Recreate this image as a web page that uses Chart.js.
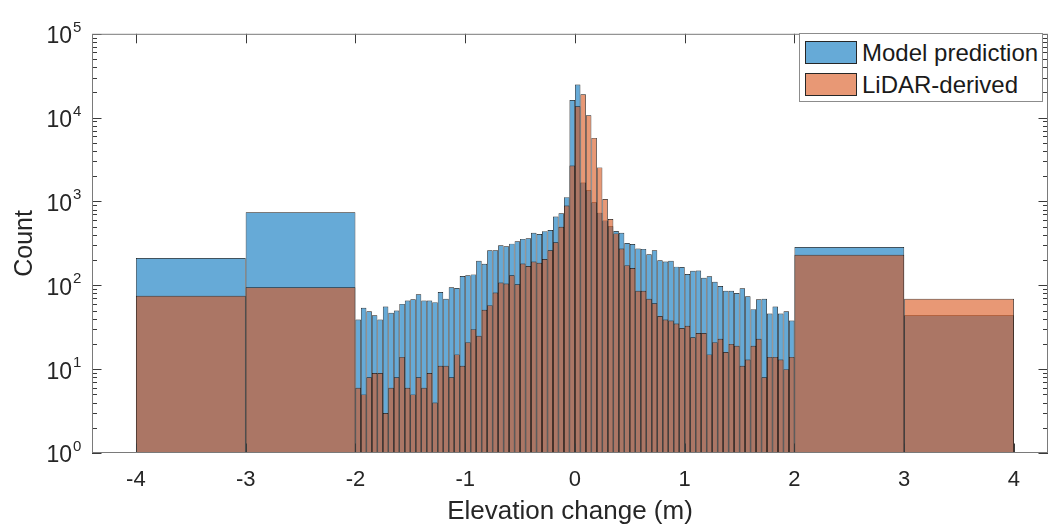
<!DOCTYPE html>
<html>
<head>
<meta charset="utf-8">
<title>Elevation change histogram</title>
<script src="https://cdn.jsdelivr.net/npm/chart.js@4.4.1/dist/chart.umd.min.js"></script>
<style>
  html, body { margin: 0; padding: 0; background: #fff; }
  #wrap { position: relative; width: 1049px; height: 527px; overflow: hidden; }
  #legend {
    position: absolute; left: 799px; top: 33px; width: 244px; height: 69px;
    box-sizing: border-box; border: 1px solid #8c8c8c; background: #fff;
    font-family: 'Liberation Sans', Arial, sans-serif; font-size: 24px; color: #1a1a1a;
  }
  .item { position: absolute; left: 5px; height: 23px; display: flex; align-items: center; white-space: nowrap; }
  .swatch { width: 52px; height: 23px; box-sizing: border-box; border: 1px solid #262626; margin-right: 5px; }
</style>
</head>
<body>
<div id="wrap">
  <canvas id="histChart" width="1049" height="527"></canvas>
  <div id="legend"></div>
</div>
<script>
const FONT = "'Liberation Sans', Arial, sans-serif";

// bins: four 1 m wide bins outside +-2 m, 0.05 m bins inside
const wideBinCenters = [-3.5, -2.5, 2.5, 3.5];
const wideBinWidth = 1;
const fineBinStart = -2;
const fineBinWidth = 0.05;
const fineBinCount = 80;
const fineBinCenters = Array.from({ length: fineBinCount }, (_, i) => +(fineBinStart + fineBinWidth * (i + 0.5)).toFixed(3));

// counts
const modelWide = [212, 742, 287, 44];
const lidarWide = [75, 95, 232, 69];

const modelFine = [
  39, 54, 49, 44, 39, 56, 47, 50, 60, 66,
  68, 78, 66, 66, 63, 83, 69, 95, 93, 129,
  132, 135, 196, 181, 262, 262, 300, 292, 314, 336,
  358, 365, 424, 409, 443, 456, 661, 722, 1127, 16200,
  24800, 1680, 1360, 977, 736, 595, 507, 444, 424, 319,
  310, 274, 272, 234, 262, 199, 192, 196, 167, 165,
  136, 149, 150, 123, 128, 110, 98, 86, 86, 81,
  92, 74, 52, 68, 69, 46, 56, 46, 49, 38
];
const lidarFine = [
  6, 5, 8, 9, 9, 3, 6, 8, 14, 6,
  5, 8, 6, 9, 4, 11, 11, 8, 15, 11,
  21, 30, 25, 51, 58, 82, 108, 105, 132, 103,
  182, 170, 192, 186, 206, 262, 327, 498, 894, 2690,
  13700, 19000, 10660, 5730, 2550, 1069, 616, 416, 274, 174,
  161, 86, 86, 69, 61, 43, 39, 38, 35, 31,
  33, 24, 27, 27, 15, 21, 23, 16, 20, 19,
  11, 13, 19, 23, 8, 14, 14, 13, 10, 14
];

const seriesLabels = ['Model prediction', 'LiDAR-derived'];
const seriesColors = ['rgba(0,114,189,0.6)', 'rgba(217,83,25,0.6)'];
const edgeColor = '#141414';

const yMin = 1, yMax = 1e5;
const majorTick = 9.5, minorTick = 5;

// one bar dataset; all share one stack so they overlap instead of sitting side by side
function histDataset(series, centers, counts, binWidth) {
  const ds = {
    label: seriesLabels[series],
    data: centers.map((x, i) => ({ x: x, y: counts[i] })),
    backgroundColor: seriesColors[series],
    borderColor: edgeColor,
    borderWidth: 0.7,
    borderSkipped: false,
    inflateAmount: 0,
    stack: 'hist',
    order: series === 0 ? 2 : 1,
    categoryPercentage: 1,
    barPercentage: 1
  };
  if (binWidth) {
    ds.barThickness = (ctx) => {
      const s = ctx.chart.scales.x;
      return Math.abs(s.getPixelForValue(binWidth) - s.getPixelForValue(0));
    };
  }
  return ds;
}

const isDecade = (v) => Math.abs(Math.log10(v) - Math.round(Math.log10(v))) < 1e-9;

// inward ticks, box and the exponents of the y labels
const axisFrame = {
  id: 'axisFrame',
  afterDatasetsDraw(chart) {
    const { ctx, chartArea: a, scales: { x, y } } = chart;
    ctx.save();
    ctx.strokeStyle = '#3a3a3a';
    ctx.lineWidth = 1;
    ctx.beginPath();
    x.ticks.forEach(t => {
      const px = Math.round(x.getPixelForValue(t.value)) + 0.5;
      ctx.moveTo(px, a.bottom); ctx.lineTo(px, a.bottom - majorTick);
      ctx.moveTo(px, a.top); ctx.lineTo(px, a.top + majorTick);
    });
    for (let e = Math.round(Math.log10(yMin)); e < Math.round(Math.log10(yMax)) + 1; e++) {
      for (let m = 1; m <= 9; m++) {
        const v = m * Math.pow(10, e);
        if (v > yMax) break;
        const len = m === 1 ? majorTick : minorTick;
        const py = Math.round(y.getPixelForValue(v)) + 0.5;
        ctx.moveTo(a.left, py); ctx.lineTo(a.left + len, py);
        ctx.moveTo(a.right, py); ctx.lineTo(a.right - len, py);
      }
    }
    ctx.stroke();
    ctx.strokeStyle = '#7a7a7a';
    ctx.strokeRect(a.left + 0.5, a.top + 0.5, a.right - a.left - 1, a.bottom - a.top - 1);

    ctx.fillStyle = '#262626';
    ctx.font = '15px ' + FONT;
    ctx.textAlign = 'left';
    ctx.textBaseline = 'alphabetic';
    y.ticks.forEach(t => {
      if (!isDecade(t.value)) return;
      const py = y.getPixelForValue(t.value);
      ctx.fillText(String(Math.round(Math.log10(t.value))), a.left - y.options.ticks.padding + 1, py - 2);
    });
    ctx.restore();
  }
};

const chart = new Chart(document.getElementById('histChart'), {
  type: 'bar',
  data: {
    datasets: [
      histDataset(0, wideBinCenters, modelWide, wideBinWidth),
      histDataset(0, fineBinCenters, modelFine),
      histDataset(1, wideBinCenters, lidarWide, wideBinWidth),
      histDataset(1, fineBinCenters, lidarFine)
    ]
  },
  options: {
    responsive: false,
    animation: false,
    devicePixelRatio: 1,
    events: [],
    layout: { padding: { top: 21, right: 1, left: 0, bottom: 0 } },
    plugins: { legend: { display: false }, tooltip: { enabled: false } },
    scales: {
      x: {
        type: 'linear',
        min: -4.4,
        max: 4.31,
        offset: false,
        grid: { display: false, drawTicks: false, offset: false },
        border: { display: false },
        ticks: {
          stepSize: 1, includeBounds: false, autoSkip: false, maxRotation: 0,
          padding: 14, color: '#262626', font: { family: FONT, size: 22 }
        },
        title: {
          display: true, text: 'Elevation change (m)', color: '#262626',
          font: { family: FONT, size: 26 }, padding: { top: 0, bottom: 0 }
        },
        afterFit(s) { s.height = 74; }
      },
      y: {
        type: 'logarithmic',
        min: yMin,
        max: yMax,
        stacked: false,
        grid: { display: false, drawTicks: false },
        border: { display: false },
        ticks: {
          autoSkip: false, padding: 20, labelOffset: 3, color: '#262626',
          font: { family: FONT, size: 23 },
          callback: (v) => isDecade(v) ? '10' : ''
        },
        title: {
          display: true, text: 'Count', color: '#262626',
          font: { family: FONT, size: 25 }, padding: { top: 10, bottom: 0 }
        },
        afterFit(s) { s.width = 92; }
      }
    }
  },
  plugins: [axisFrame]
});

// legend inside the axes, top right
const legendEl = document.getElementById('legend');
seriesLabels.forEach((label, i) => {
  const row = document.createElement('div');
  row.className = 'item';
  row.style.top = (7 + i * 32) + 'px';
  const sw = document.createElement('span');
  sw.className = 'swatch';
  sw.style.background = seriesColors[i];
  const txt = document.createElement('span');
  txt.textContent = label;
  row.appendChild(sw);
  row.appendChild(txt);
  legendEl.appendChild(row);
});
</script>
</body>
</html>
